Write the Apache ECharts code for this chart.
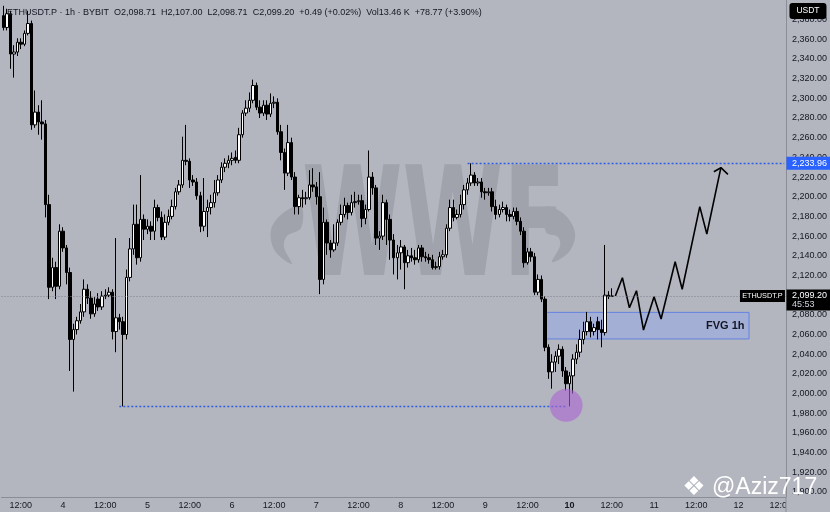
<!DOCTYPE html>
<html><head><meta charset="utf-8">
<script src="https://cdn.jsdelivr.net/npm/echarts@6/dist/echarts.min.js"></script>
<style>html,body{margin:0;padding:0;background:#b3b6bf}#c{width:830px;height:512px}</style>
</head><body><div id="c"></div>
<script>
// ---- data (ETHUSDT.P 1h, BYBIT) ----
const openP = [2384,2372,2386,2345,2347,2357,2355,2366,2376,2273,
2286,2276,2274,2192,2108,2128,2109,2165,2148,2123,
2055,2065,2074,2083,2106,2097,2081,2096,2088,2099,
2100,2103,2063,2077,2073,2060,2118,2147,2172,2138,
2177,2167,2170,2165,2189,2179,2159,2174,2180,2190,
2205,2212,2237,2236,2217,2215,2201,2170,2185,2189,
2194,2204,2217,2230,2234,2237,2240,2237,2263,2285,
2290,2298,2313,2291,2285,2293,2284,2295,2296,2266,
2245,2224,2255,2220,2190,2199,2198,2199,2212,2210,
2200,2116,2174,2153,2146,2153,2174,2182,2191,2184,
2194,2195,2196,2178,2187,2220,2209,2158,2160,2194,
2177,2156,2138,2143,2149,2133,2140,2138,2136,2148,
2139,2138,2136,2128,2129,2139,2141,2168,2189,2179,
2182,2192,2207,2214,2222,2214,2215,2205,2204,2205,
2190,2182,2187,2189,2182,2180,2185,2175,2165,2133,
2144,2139,2103,2116,2096,2047,2022,2032,2038,2045,
2023,2010,2018,2035,2042,2055,2063,2073,2063,2073,
2065,2062,2100,2098.71];
const closeP = [2372,2386,2345,2347,2357,2355,2366,2376,2273,2286,
2276,2274,2192,2108,2128,2109,2165,2148,2123,2055,
2065,2074,2083,2106,2097,2081,2091,2088,2099,2100,
2103,2063,2077,2073,2060,2118,2147,2172,2138,2177,
2167,2170,2165,2189,2179,2159,2174,2180,2190,2205,
2212,2237,2236,2217,2215,2201,2170,2185,2189,2194,
2204,2217,2230,2234,2237,2239,2237,2263,2285,2290,
2298,2313,2291,2285,2293,2284,2295,2296,2266,2245,
2224,2255,2220,2190,2199,2198,2199,2212,2210,2200,
2116,2174,2153,2146,2153,2174,2182,2191,2184,2194,
2195,2196,2178,2187,2220,2209,2158,2160,2194,2177,
2156,2138,2143,2149,2133,2140,2138,2136,2148,2139,
2138,2136,2128,2129,2139,2141,2168,2189,2179,2182,
2192,2207,2214,2222,2214,2215,2205,2204,2205,2190,
2182,2187,2189,2182,2180,2185,2175,2165,2133,2144,
2139,2103,2116,2096,2047,2022,2032,2038,2045,2023,
2010,2018,2035,2042,2055,2063,2073,2063,2067,2065,
2062,2100,2098.71,2099.2];
const highP = [2394,2391,2389,2354,2361,2361,2369,2389,2379,2308,
2293,2298,2278,2202,2138,2134,2172,2169,2151,2128,
2071,2078,2091,2116,2111,2104,2098,2102,2104,2106,
2108,2106,2158,2081,2078,2126,2158,2192,2192,2222,
2182,2177,2175,2197,2192,2185,2182,2187,2197,2209,
2217,2261,2273,2239,2222,2219,2205,2219,2197,2202,
2217,2222,2235,2239,2242,2245,2247,2270,2288,2298,
2306,2319,2316,2298,2298,2298,2305,2302,2300,2273,
2249,2273,2260,2225,2202,2207,2205,2227,2229,2215,
2225,2189,2177,2156,2172,2177,2192,2199,2194,2202,
2205,2202,2202,2192,2247,2225,2212,2165,2202,2197,
2182,2162,2151,2156,2151,2146,2148,2146,2151,2151,
2144,2142,2141,2134,2144,2146,2172,2197,2197,2187,
2202,2212,2219,2233.96,2225,2219,2219,2209,2209,2209,
2197,2192,2195,2192,2187,2189,2189,2179,2169,2148,
2148,2143,2121,2120,2099,2050,2040,2043,2050,2048,
2027,2022,2040,2050,2065,2073,2083,2078,2071,2078,
2075,2151,2104,2107];
const lowP = [2369,2369,2330,2321,2343,2350,2353,2364,2268,2270,
2263,2258,2179,2096,2104,2096,2106,2144,2111,2023,
2002,2060,2071,2078,2091,2076,2078,2084,2085,2096,
2098,2055,2042,2065,1987,2055,2114,2141,2131,2134,
2156,2162,2156,2156,2175,2156,2156,2171,2177,2187,
2202,2209,2232,2209,2211,2197,2164,2165,2159,2182,
2189,2201,2214,2225,2229,2232,2234,2234,2260,2282,
2286,2295,2288,2280,2282,2278,2281,2290,2263,2237,
2207,2221,2217,2182,2182,2189,2192,2197,2205,2192,
2101,2111,2141,2138,2144,2150,2171,2179,2177,2181,
2189,2192,2169,2172,2185,2202,2151,2146,2156,2151,
2136,2121,2116,2126,2106,2128,2134,2131,2133,2134,
2134,2132,2126,2126,2126,2136,2138,2165,2175,2177,
2179,2187,2202,2211,2211,2211,2199,2197,2201,2185,
2177,2179,2184,2175,2175,2177,2171,2161,2128,2131,
2134,2100,2100,2093,2043,2015,2005,2022,2030,2017,
2003,1987,2000,2030,2037,2050,2059,2057,2059,2055,
2047,2059,2096,2098.71];

// projected path (drawn idea)
const projIdx = [174,176,178,180,182,185,187,191,193,198,200,204];
const projVal = [2099.2,2117.7,2087.2,2104.5,2064.6,2098.4,2075.8,2134.0,2106.0,2189.9,2162.1,2229.5];
const arrowIdx = [202,204,206];
const arrowVal = [2225.4,2229.5,2222.8];

// levels
const targetLevel = 2233.96;
const lowLevel = 1987;
const lowFrom = 33, lowTo = 160;
const targetFrom = 132, targetTo = 222;
const fvgTop = 2082.5, fvgBottom = 2055.5, fvgFrom = 154, fvgTo = 212;
const circleIdx = 160, circleVal = 1988;
const lastClose = 2099.2;

const yTicks = [1900,1920,1940,1960,1980,2000,2020,2040,2060,2080,2100,2120,2140,2160,2180,2200,2220,2240,2260,2280,2300,2320,2340,2360,2380];

// hourly categories: day 3 07:00 .. day 12 13:00
const firstDay = 3, firstHour = 7, nCats = 223;
const categories = [];
for (let i = 0; i < nCats; i++) {
  const hr = firstHour + i;
  const d = firstDay + Math.floor(hr / 24);
  const h = hr % 24;
  categories.push(d + ' ' + (h < 10 ? '0' + h : h) + ':00');
}
const header = 'ETHUSDT.P · 1h · BYBIT  O2,098.71  H2,107.00  L2,098.71  C2,099.20  +0.49 (+0.02%)  Vol13.46 K  +78.77 (+3.90%)';

const FONT = '"Liberation Sans", Arial, sans-serif';
const TXT = '#131722';
const BG = '#b3b6bf';
const DOT_BLUE = {color: '#2f5ee6', width: 1.3, type: [2, 2], opacity: 1};

const chart = echarts.init(document.getElementById('c'), null, {renderer: 'canvas'});
const candles = openP.map((o, i) => [o, closeP[i], lowP[i], highP[i]]);

chart.setOption({
  animation: false,
  backgroundColor: BG,
  title: {text: header, left: 2, top: 3,
    textStyle: {fontSize: 9, fontWeight: 'normal', color: TXT, fontFamily: FONT}},
  grid: {left: 1.5, right: 43.5, top: 0, bottom: 15, containLabel: false},
  xAxis: {
    type: 'category', data: categories, boundaryGap: true,
    axisLine: {show: true, lineStyle: {color: '#8a8d96', width: 1}},
    axisTick: {show: false},
    splitLine: {show: false},
    axisLabel: {
      color: TXT, fontSize: 9, fontFamily: FONT, margin: 4,
      interval: (idx, val) => { const h = val.split(' ')[1]; return h === '00:00' || h === '12:00'; },
      formatter: (val) => {
        const [d, h] = val.split(' ');
        if (h === '12:00') return '12:00';
        return d === '10' ? '{b|10}' : d;
      },
      rich: {b: {fontWeight: 'bold', fontSize: 9, color: TXT, fontFamily: FONT}}
    }
  },
  yAxis: {
    type: 'value', position: 'right', min: 1894.9, max: 2399.9,
    splitLine: {show: false},
    axisLine: {show: true, lineStyle: {color: '#8a8d96', width: 1}},
    axisTick: {show: false},
    axisLabel: {
      customValues: yTicks, color: TXT, fontSize: 9, fontFamily: FONT, margin: 6,
      formatter: (v) => Number(v).toLocaleString('en-US', {minimumFractionDigits: 2, maximumFractionDigits: 2})
    }
  },
  series: [
    {
      type: 'candlestick', data: candles, barWidth: 3,
      itemStyle: {color: '#ffffff', color0: '#000000', borderColor: '#000000', borderColor0: '#000000', borderWidth: 1},
      markLine: {
        silent: true, symbol: ['none', 'none'], label: {show: false},
        data: [
          [{coord: [lowFrom, lowLevel], lineStyle: DOT_BLUE}, {coord: [lowTo, lowLevel], lineStyle: DOT_BLUE}],
          [{coord: [targetFrom, targetLevel], lineStyle: DOT_BLUE}, {coord: [targetTo, targetLevel], lineStyle: DOT_BLUE}]
        ],
        lineStyle: DOT_BLUE
      },
      markArea: {
        silent: true,
        itemStyle: {color: 'rgba(144,167,243,0.42)', borderColor: '#6383e0', borderWidth: 1},
        label: {show: true, position: 'insideRight', distance: 5, formatter: '{b}',
          color: TXT, fontWeight: 'bold', fontSize: 11, fontFamily: FONT},
        data: [[{name: 'FVG 1h', coord: [fvgFrom, fvgTop]}, {coord: [fvgTo, fvgBottom]}]]
      },
      markPoint: {
        silent: true, label: {show: false},
        data: [{coord: [circleIdx, circleVal], symbol: 'circle', symbolSize: 33,
          itemStyle: {color: 'rgba(170,100,210,0.6)'}}]
      }
    },
    {
      // current price line
      type: 'line', data: [], symbol: 'none', z: 1,
      markLine: {silent: true, symbol: ['none', 'none'], label: {show: false},
        lineStyle: {color: '#7d808a', width: 1, type: [1, 2]},
        data: [{yAxis: lastClose}]}
    },
    {
      type: 'line', data: projIdx.map((x, i) => [x, projVal[i]]), symbol: 'none',
      lineStyle: {color: '#000000', width: 1.6}, z: 4
    },
    {
      type: 'line', data: arrowIdx.map((x, i) => [x, arrowVal[i]]), symbol: 'none',
      lineStyle: {color: '#000000', width: 1.6}, z: 4
    }
  ]
});

// axis tags & overlay decorations positioned from the axis scales
const yT = chart.convertToPixel({yAxisIndex: 0}, targetLevel);
const yL = chart.convertToPixel({yAxisIndex: 0}, lastClose);
const axX = chart.convertToPixel({xAxisIndex: 0}, categories[nCats - 1]) + 1.76;
const bottomY = chart.convertToPixel({yAxisIndex: 0}, 1894.9);
const WM = '#a0a3ac';

chart.setOption({
  graphic: [
    // watermark
    {type: 'polygon', z: 0, silent: true,
      shape: {points: [[301,206],[283,213],[271,230],[275,251],[292,264],[284,247],[287,236],[301,228]], smooth: 0.35},
      style: {fill: WM}},
    {type: 'polygon', z: 0, silent: true,
      shape: {points: [[545,207],[564,214],[575,233],[569,252],[552,262],[560,246],[558,237],[546,232]], smooth: 0.35},
      style: {fill: WM}},
    {type: 'text', z: 0, silent: true, x: 302, y: 236, scaleX: 0.6,
      style: {text: 'WWF', fontSize: 152, fontWeight: 'bold', fontFamily: '"DejaVu Sans"',
        fill: WM, verticalAlign: 'middle', align: 'left'}},
    // clip of last time label under the price scale
    {type: 'rect', z: 20, silent: true, shape: {x: axX, y: bottomY + 0.5, width: 50, height: 20}, style: {fill: BG}},
    {type: 'line', z: 21, silent: true, shape: {x1: axX, y1: bottomY, x2: axX, y2: 512}, style: {stroke: '#8a8d96', lineWidth: 1}},
    // USDT unit box
    {type: 'rect', z: 20, silent: true, shape: {x: axX + 3.5, y: 3, width: 37, height: 16, r: 3}, style: {fill: '#000000'}},
    {type: 'text', z: 21, silent: true, x: axX + 22, y: 11,
      style: {text: 'USDT', fontSize: 8.5, fontFamily: FONT, fill: '#ffffff', align: 'center', verticalAlign: 'middle'}},
    // target price tag
    {type: 'rect', z: 20, silent: true, shape: {x: axX + 0.5, y: yT - 6.5, width: 44, height: 13}, style: {fill: '#2962ff'}},
    {type: 'text', z: 21, silent: true, x: axX + 6, y: yT,
      style: {text: '2,233.96', fontSize: 9, fontFamily: FONT, fill: '#ffffff', verticalAlign: 'middle'}},
    // last price tag
    {type: 'rect', z: 20, silent: true, shape: {x: axX + 0.5, y: yL - 6.5, width: 44, height: 21}, style: {fill: '#000000'}},
    {type: 'text', z: 21, silent: true, x: axX + 6, y: yL,
      style: {text: '2,099.20', fontSize: 9, fontFamily: FONT, fill: '#ffffff', verticalAlign: 'middle'}},
    {type: 'text', z: 21, silent: true, x: axX + 6, y: yL + 9,
      style: {text: '45:53', fontSize: 9, fontFamily: FONT, fill: '#d0d3dc', verticalAlign: 'middle'}},
    {type: 'rect', z: 20, silent: true, shape: {x: axX - 46, y: yL - 6, width: 45, height: 12}, style: {fill: '#000000'}},
    {type: 'text', z: 21, silent: true, x: axX - 23.5, y: yL,
      style: {text: 'ETHUSDT.P', fontSize: 7.3, fontFamily: FONT, fill: '#ffffff', align: 'center', verticalAlign: 'middle'}},
    // author mark
    {type: 'text', z: 22, silent: true, x: 694, y: 488,
      style: {text: '❖', fontSize: 26, fontFamily: '"DejaVu Sans"', fill: '#ffffff', align: 'center', verticalAlign: 'middle',
        shadowBlur: 3, shadowColor: 'rgba(0,0,0,0.35)'}},
    {type: 'text', z: 22, silent: true, x: 712, y: 488,
      style: {text: '@Aziz717', fontSize: 23, fontFamily: FONT, fill: '#ffffff', verticalAlign: 'middle',
        shadowBlur: 3, shadowColor: 'rgba(0,0,0,0.35)'}}
  ]
});
</script>
</body></html>
